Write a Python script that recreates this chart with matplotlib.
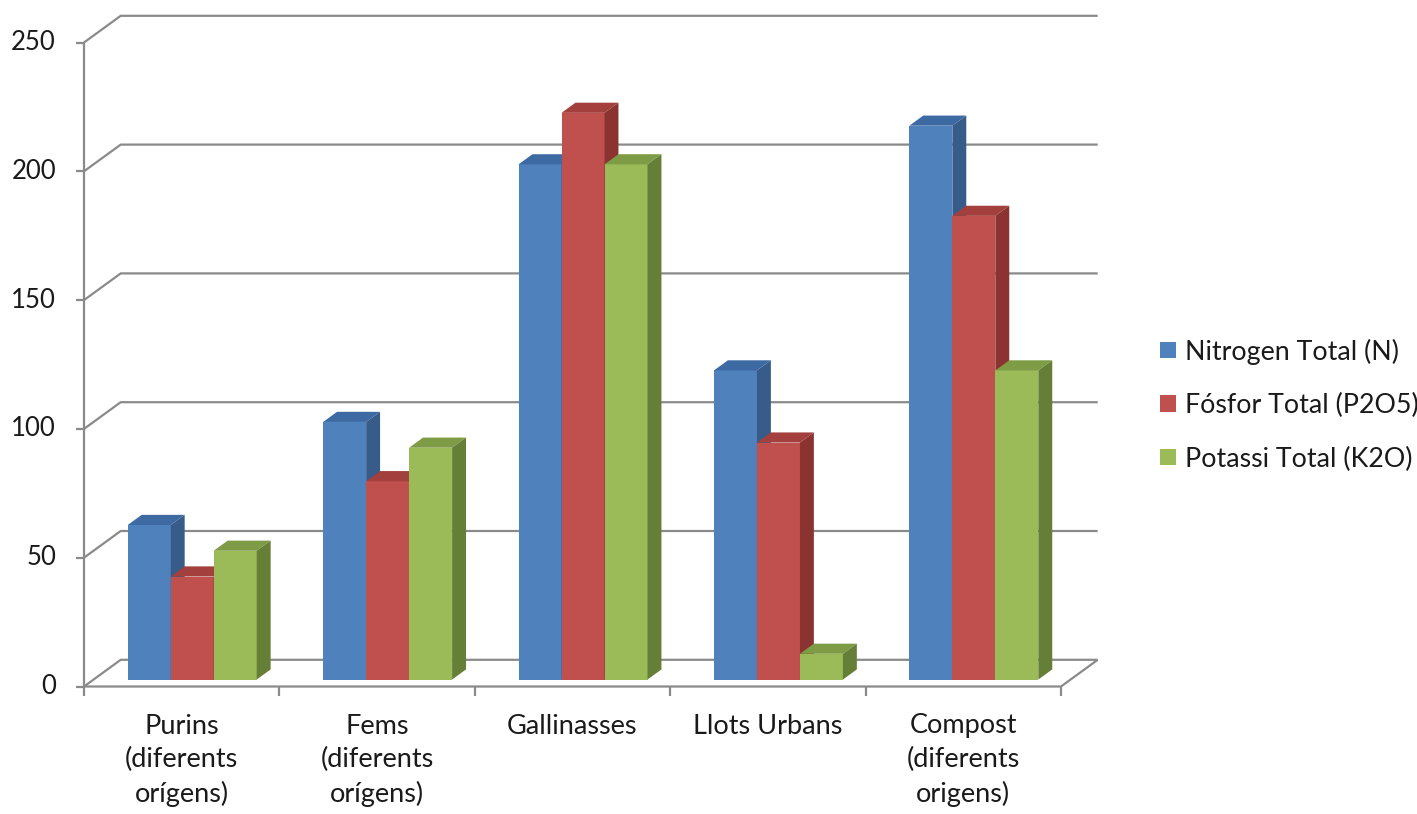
import matplotlib
matplotlib.use("Agg")
import matplotlib.pyplot as plt
from matplotlib.patches import Polygon, Patch

# --- data ---
categories = ["Purins\n(diferents\norígens)", "Fems\n(diferents\norígens)",
              "Gallinasses", "Llots Urbans", "Compost\n(diferents\norigens)"]
series_names = ["Nitrogen Total (N)", "Fósfor Total (P2O5)", "Potassi Total (K2O)"]
nitrogen = [60, 100, 200, 120, 215]
fosfor = [40, 77, 220, 92, 180]
potassi = [50, 90, 200, 10, 120]
y_ticks = [0, 50, 100, 150, 200, 250]

series = [nitrogen, fosfor, potassi]
front_cols = ["#4F81BD", "#C0504D", "#9BBB59"]
top_cols = ["#3E6AA3", "#A3403D", "#7E9C45"]
side_cols = ["#375C8A", "#8A3331", "#667F36"]

W, H, DPI = 1417, 814, 100
fig = plt.figure(figsize=(W / DPI, H / DPI), dpi=DPI)
plt.rcParams["font.family"] = ["Lato", "DejaVu Sans"]
txt_col = "#1A1A1A"

# plot frame in pixels: category axis 84..1061, value axis 686.5 (0) .. 42.5 (250)
x0_px, x1_px = 84, 1061
y0_px, y1_px = 686.5, 42.5
ax = fig.add_axes([x0_px / W, (H - y0_px) / H, (x1_px - x0_px) / W, (y0_px - y1_px) / H])
ncat = len(categories)
ax.set_xlim(0, ncat)
ax.set_ylim(0, 250)
ax.axis("off")

px_x = ncat / (x1_px - x0_px)      # category units per pixel
px_y = 250 / (y0_px - y1_px)       # value units per pixel
DX = 36.7 * px_x                    # wall depth, horizontal
DY = 26.7 * px_y                    # wall depth, vertical

grid_col = "#8A8A8A"
lw = 1.6
kw = dict(color=grid_col, lw=lw, clip_on=False, solid_capstyle="butt", zorder=1)

# walls and gridlines
ax.plot([0, 0], [0, 250], **kw)
for v in y_ticks:
    ax.plot([0, DX, ncat + DX], [v, v + DY, v + DY], **kw)
    ax.plot([-8 * px_x, 0], [v, v], **kw)
    ax.text(-28 * px_x, v, str(v), ha="right", va="center", fontsize=18.5,
            color=txt_col, clip_on=False)
# floor front edge and right edge
ax.plot([0, ncat, ncat + DX], [0, 0, DY], **kw)
for i in range(ncat + 1):
    ax.plot([i, i], [0, -9 * px_y], **kw)

# category labels
for i, lab in enumerate(categories):
    ax.text(i + 0.5, -27 * px_y, lab, ha="center", va="top", fontsize=19.5,
            color=txt_col, linespacing=1.42, clip_on=False)

# bars
gap = 0.175
bw = 0.22
d0, d1 = 0.26, 0.64
for i in range(ncat):
    for j, vals in enumerate(series):
        v = vals[i]
        xl = i + gap + j * bw + d0 * DX
        xr = xl + bw
        yb = d0 * DY
        yt = yb + v
        ddx = (d1 - d0) * DX
        ddy = (d1 - d0) * DY
        z = 3 + i * 3 + j
        ax.add_patch(Polygon([(xl, yb), (xr, yb), (xr, yt), (xl, yt)],
                             closed=True, fc=front_cols[j], ec="none", zorder=z, clip_on=False))
        ax.add_patch(Polygon([(xl, yt), (xr, yt), (xr + ddx, yt + ddy), (xl + ddx, yt + ddy)],
                             closed=True, fc=top_cols[j], ec="none", zorder=z, clip_on=False))
        ax.add_patch(Polygon([(xr, yb), (xr + ddx, yb + ddy), (xr + ddx, yt + ddy), (xr, yt)],
                             closed=True, fc=side_cols[j], ec="none", zorder=z, clip_on=False))

handles = [Patch(fc=c, ec="none") for c in front_cols]
fig.legend(handles, series_names, loc="center left",
           bbox_to_anchor=(1136 / W, 1 - 405 / H), frameon=False,
           fontsize=19.3, handlelength=0.58, handleheight=0.58,
           handletextpad=0.36, labelspacing=1.06, labelcolor=txt_col)

fig.savefig("out.png", dpi=DPI, facecolor="white")
